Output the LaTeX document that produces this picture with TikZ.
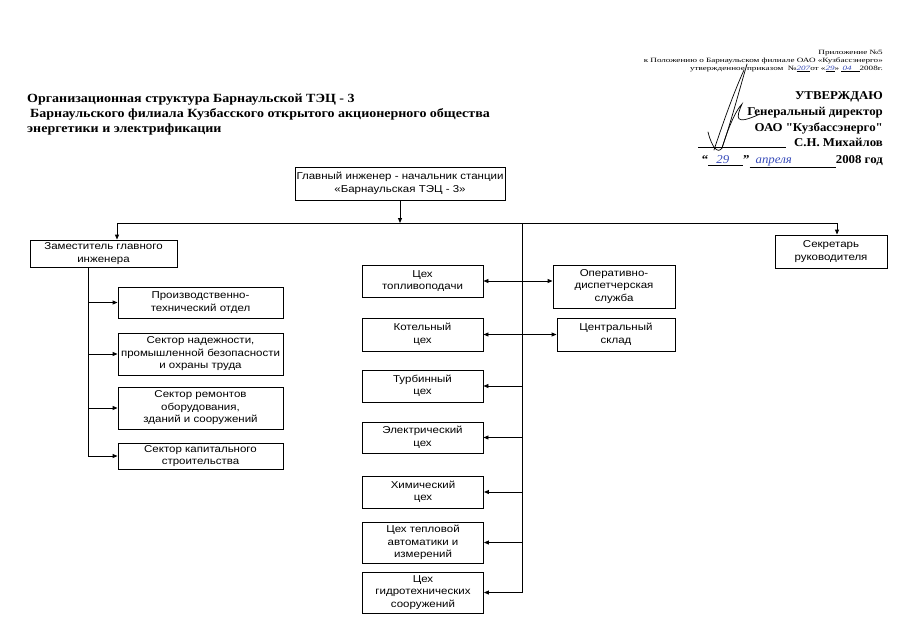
\documentclass[tikz,border=0pt]{standalone}
\usepackage{fontspec}
\setmainfont{Liberation Serif}
\newfontfamily\boxfont[FakeStretch=1.15]{Liberation Sans}
\newfontfamily\titlefont[FakeStretch=1.12]{Liberation Serif}
\newfontfamily\headfont[FakeStretch=1.07]{Liberation Serif}
\newfontfamily\smallfont[FakeStretch=1.4]{Liberation Serif}
\usetikzlibrary{arrows.meta,positioning}
\definecolor{ink}{RGB}{55,75,185}
\newcommand{\hand}{\color{ink}\itshape}

\begin{document}
\begin{tikzpicture}[x=1pt,y=-1pt,
  box/.style={draw,line width=0.9pt,align=center,inner sep=1pt,
    font=\boxfont\fontsize{10}{12.5}\selectfont},
  link/.style={line width=0.9pt},
  arr/.style={link,-{Triangle[length=5pt,width=4pt]}},
  arrtwo/.style={link,{Triangle[length=5pt,width=4pt]}-{Triangle[length=5pt,width=4pt]}},
  head/.style={anchor=east,align=right,inner sep=0pt,
    font=\headfont\bfseries\fontsize{12}{15}\selectfont},
  sig/.style={line width=0.7pt,line cap=round}]
  \useasboundingbox (0,0) rectangle (901,626);

  % Title
  \node[anchor=north west,align=left,inner sep=0pt,
    font=\titlefont\bfseries\fontsize{12.5}{15}\selectfont] (title) at (27,94)
    {Организационная структура Барнаульской ТЭЦ - 3\\
     \hspace{3pt}Барнаульского филиала Кузбасского открытого акционерного общества\\
     энергетики и электрификации};

  % Approval block
  \node[anchor=east,align=right,inner sep=0pt,font=\smallfont\fontsize{6.5}{8}\selectfont] (pril) at (883,61)
    {Приложение №5\\
     к Положению о Барнаульском филиале ОАО «Кузбассэнерго»\\
     утвержденное приказом \ №\underline{{\hand 207}}от «\underline{{\hand 29}}» \underline{\,{\hand 04}\hspace{8pt}}2008г.};
  \node[head] (utv) at (883,97) {УТВЕРЖДАЮ};
  \node[head] (gen) at (883,113) {Генеральный директор};
  \node[head] (oao) at (883,128) {ОАО "Кузбассэнерго"};
  \node[head] (fio) at (883,143) {\underline{\hspace{88pt}}\hspace{8pt}С.Н. Михайлов};
  \node[head] (date) at (883,162)
    {“\underline{\hspace{8pt}{\hand\mdseries 29}\hspace{14pt}}”\underline{\hspace{6pt}{\hand\mdseries апреля}\hspace{44pt}}2008 год};

  % Signature
  \draw[sig] (708,132) .. controls (712,148) and (718,154) .. (722,148)
    .. controls (730,125) and (738,95) .. (747,64);
  \draw[sig] (714,150) .. controls (724,120) and (734,92) .. (744,70);
  \draw[sig] (722,148) .. controls (728,128) and (736,110) .. (742,104)
    .. controls (736,118) and (734,126) .. (760,114);

  % Chief engineer
  \node[box,minimum width=210pt,minimum height=33pt] (gl) at (400,183.5)
    {Главный инженер - начальник станции\\«Барнаульская ТЭЦ - 3»};

  % Deputy and his departments
  \node[box,minimum width=147pt,minimum height=27pt] (zam) at (103.5,253.5)
    {Заместитель главного\\инженера};
  \node[box,minimum width=165pt,minimum height=31pt] (pto) at (200.5,302.5)
    {Производственно-\\технический отдел};
  \node[box,minimum width=165pt,minimum height=42pt] (nad) at (200.5,354)
    {Сектор надежности,\\промышленной безопасности\\и охраны труда};
  \node[box,minimum width=165pt,minimum height=42pt] (rem) at (200.5,408)
    {Сектор ремонтов\\оборудования,\\зданий и сооружений};
  \node[box,minimum width=165pt,minimum height=26pt] (kap) at (200.5,456)
    {Сектор капитального\\строительства};

  % Workshops
  \node[box,minimum width=121pt,minimum height=32pt] (topl) at (422.5,281)
    {Цех\\топливоподачи};
  \node[box,minimum width=121pt,minimum height=33pt] (kot) at (422.5,334.5)
    {Котельный\\цех};
  \node[box,minimum width=121pt,minimum height=32pt] (turb) at (422.5,386)
    {Турбинный\\цех};
  \node[box,minimum width=121pt,minimum height=31pt] (el) at (422.5,437.5)
    {Электрический\\цех};
  \node[box,minimum width=121pt,minimum height=32pt] (him) at (423,492)
    {Химический\\цех};
  \node[box,minimum width=121pt,minimum height=41pt] (avt) at (423,542.5)
    {Цех тепловой\\автоматики и\\измерений};
  \node[box,minimum width=121pt,minimum height=41pt] (gidro) at (423,592.5)
    {Цех\\гидротехнических\\сооружений};

  % Services
  \node[box,minimum width=122pt,minimum height=43pt] (oper) at (614,286.5)
    {Оперативно-\\диспетчерская\\служба};
  \node[box,minimum width=118pt,minimum height=33pt] (sklad) at (616,334.5)
    {Центральный\\склад};
  \node[box,minimum width=112pt,minimum height=33pt] (sek) at (831,251.5)
    {Секретарь\\руководителя};

  % Bus lines
  \coordinate (bl) at (117,223);
  \coordinate (br) at (837,223);
  \coordinate (cb) at (522,223);
  \coordinate (zx) at (88,0);
  \draw[arr] (gl.south) -- (gl.south |- bl);
  \draw[link] (bl) -- (br);
  \draw[arr] (bl) -- (bl |- zam.north);
  \draw[arr] (br) -- (br |- sek.north);

  % Left branch
  \draw[link] (zam.south -| zx) -- (zx |- kap.west);
  \foreach \n in {pto,nad,rem,kap}
    \draw[arr] (zx |- \n.west) -- (\n.west);

  % Centre branch
  \draw[link] (cb) -- (cb |- gidro.east);
  \foreach \n in {turb,el,him,avt,gidro}
    \draw[arr] (cb |- \n.east) -- (\n.east);
  \draw[arrtwo] (topl.east) -- (topl.east -| oper.west);
  \draw[arrtwo] (kot.east) -- (kot.east -| sklad.west);
\end{tikzpicture}
\end{document}
